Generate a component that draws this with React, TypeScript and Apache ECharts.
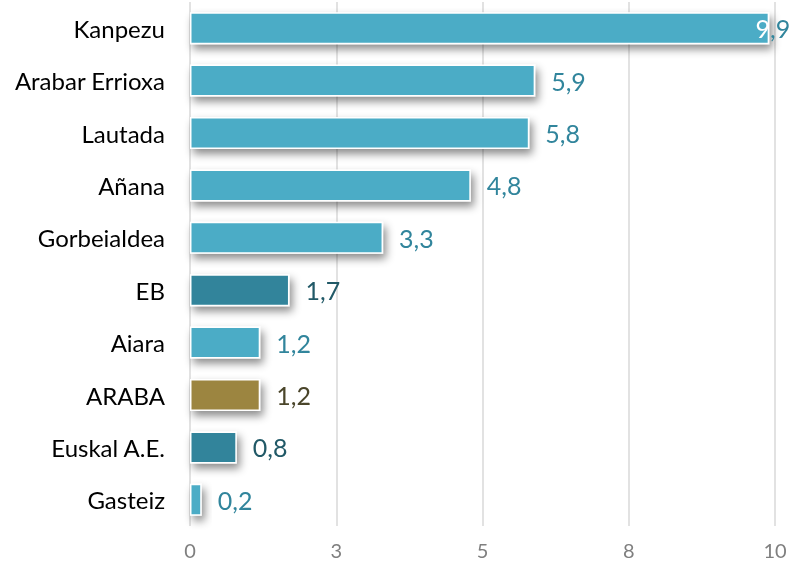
import React, { useEffect, useRef } from "react";
import * as echarts from "echarts";

const categories = ["Kanpezu", "Arabar Errioxa", "Lautada", "Añana", "Gorbeialdea", "EB", "Aiara", "ARABA", "Euskal A.E.", "Gasteiz"];
const values = [9.9, 5.9, 5.8, 4.8, 3.3, 1.7, 1.2, 1.2, 0.8, 0.2];
const barColors = ["#4bacc6", "#4bacc6", "#4bacc6", "#4bacc6", "#4bacc6", "#31849b", "#4bacc6", "#9c8541", "#31849b", "#4bacc6"];
const labelColors = ["#31859c", "#31859c", "#31859c", "#31859c", "#31859c", "#215967", "#31859c", "#4a452a", "#215967", "#31859c"];
const tickLabels: Record<string, string> = { "0": "0", "2.5": "3", "5": "5", "7.5": "8", "10": "10" };

const FONT = "Lato";

export default function App() {
  const ref = useRef<HTMLDivElement>(null);
  useEffect(() => {
    const chart = echarts.init(ref.current!, null, { renderer: "svg" });
    chart.setOption({
      animation: false,
      grid: { left: 190, right: 16, top: 2, bottom: 36, containLabel: false },
      xAxis: {
        type: "value",
        min: 0,
        max: 10,
        interval: 2.5,
        axisLine: { show: false },
        axisTick: { show: false },
        splitLine: { show: true, lineStyle: { color: "#d9d9d9", width: 1.5 } },
        axisLabel: {
          color: "#7f7f7f",
          fontSize: 20,
          fontFamily: FONT,
          margin: 14,
          formatter: (v: number) => tickLabels[String(v)] ?? String(Math.round(v)),
        },
      },
      yAxis: {
        type: "category",
        data: categories,
        inverse: true,
        axisLine: { show: false },
        axisTick: { show: false },
        axisLabel: { color: "#000", fontSize: 24, fontFamily: FONT, margin: 25 },
      },
      series: [
        {
          type: "bar",
          barWidth: 32,
          data: values.map((v, i) => ({
            value: v,
            itemStyle: {
              color: barColors[i],
              borderColor: "#fff",
              borderWidth: 1.5,
              shadowColor: "rgba(0,0,0,0.45)",
              shadowBlur: 8,
              shadowOffsetX: 3,
              shadowOffsetY: 5,
            },
            label: i === 0
              ? {
                  show: true,
                  position: "insideRight",
                  offset: [26, 0],
                  formatter: (p: any) => {
                    const s = String(p.value).replace(".", ",");
                    return "{a|" + s.slice(0, 1) + "}{b|" + s.slice(1) + "}";
                  },
                  rich: {
                    a: { color: "#ffffff", fontSize: 25, fontFamily: FONT },
                    b: { color: labelColors[i], fontSize: 25, fontFamily: FONT },
                  },
                }
              : {
                  show: true,
                  position: "right",
                  distance: 16,
                  color: labelColors[i],
                  fontSize: 25,
                  fontFamily: FONT,
                  formatter: (p: any) => String(p.value).replace(".", ","),
                },
          })),
        },
      ],
    });
    return () => chart.dispose();
  }, []);
  return <div ref={ref} style={{ position: "fixed", left: 0, top: 0, width: 791, height: 562 }} />;
}
